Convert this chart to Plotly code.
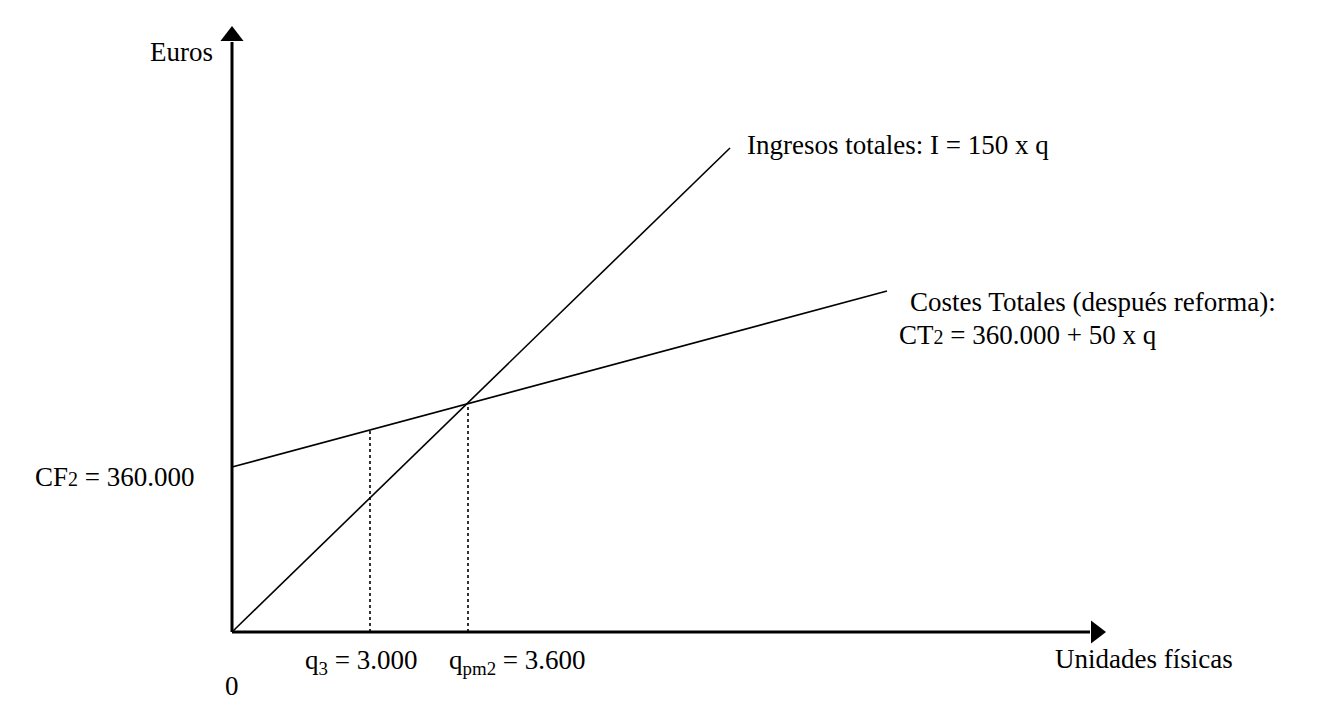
import plotly.graph_objects as go

# schematic drawing units (the reference diagram is not drawn to scale)
q_ingresos = [0, 498]
e_ingresos = [0, 484]

q_costes = [0, 655]
e_costes = [165, 341]

q_marks = [138, 236]
e_marks = [202, 228]

x_axis_end = 858
y_axis_end = 590

FONT = "Liberation Serif, Times New Roman, serif"
FS = 27

fig = go.Figure()

# axes
fig.add_trace(go.Scatter(x=[0, x_axis_end], y=[0, 0], mode="lines",
                         line=dict(color="black", width=3), hoverinfo="skip"))
fig.add_trace(go.Scatter(x=[0, 0], y=[0, y_axis_end], mode="lines",
                         line=dict(color="black", width=3), hoverinfo="skip"))
fig.add_trace(go.Scatter(x=[x_axis_end + 6], y=[0], mode="markers",
                         marker=dict(symbol="triangle-right", size=20, color="black"),
                         hoverinfo="skip"))
fig.add_trace(go.Scatter(x=[0], y=[y_axis_end + 6], mode="markers",
                         marker=dict(symbol="triangle-up", size=20, color="black"),
                         hoverinfo="skip"))

# revenue and cost lines
fig.add_trace(go.Scatter(x=q_ingresos, y=e_ingresos, mode="lines",
                         line=dict(color="black", width=1.6), hoverinfo="skip"))
fig.add_trace(go.Scatter(x=q_costes, y=e_costes, mode="lines",
                         line=dict(color="black", width=1.6), hoverinfo="skip"))

# dotted guides
for q, e in zip(q_marks, e_marks):
    fig.add_trace(go.Scatter(x=[q, q], y=[0, e], mode="lines",
                             line=dict(color="black", width=1.6, dash="dot"),
                             hoverinfo="skip"))

def label(x, y, text, xanchor="left"):
    fig.add_annotation(x=x, y=y, xref="x", yref="y", text=text, showarrow=False,
                       xanchor=xanchor, yanchor="middle",
                       font=dict(family=FONT, size=FS, color="black"))

small = "<span style='font-size:20px'>2</span>"
label(-17, 580, "Euros", xanchor="right")
label(513, 487, "Ingresos totales: I = 150 x q")
label(676, 330, "Costes Totales (después reforma):")
label(665, 297, "CT" + small + " = 360.000 + 50 x q")
label(-199, 155, "CF" + small + " = 360.000")
label(71, -30, "q<sub>3</sub> = 3.000")
label(215, -30, "q<sub>pm2</sub> = 3.600")
label(821, -27, "Unidades físicas")
label(0, -54, "0", xanchor="center")

# the page body adds an 8px margin, so the ranges are shifted to compensate
fig.update_layout(
    width=1344, height=704,
    margin=dict(l=0, r=0, t=0, b=0),
    plot_bgcolor="white", paper_bgcolor="white",
    showlegend=False,
    xaxis=dict(range=[-224, 1120], visible=False, fixedrange=True),
    yaxis=dict(range=[-80, 624], visible=False, fixedrange=True),
)

fig.write_html("out.html")
